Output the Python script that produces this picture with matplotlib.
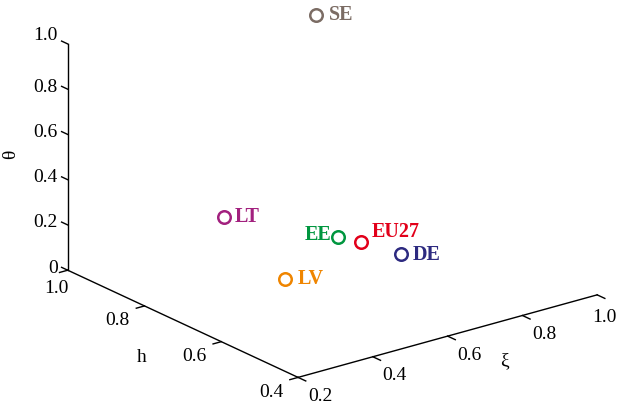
import matplotlib
matplotlib.use("Agg")
import matplotlib.pyplot as plt
from matplotlib.transforms import ScaledTranslation
from mpl_toolkits.mplot3d import proj3d

# ---------------- data ----------------
countries = ["SE", "LT", "EE", "EU27", "DE", "LV"]
xi_vals = [0.72, 0.41, 0.568, 0.630, 0.657, 0.45]
h_vals = [0.86, 0.798, 0.654, 0.656, 0.576, 0.678]
theta_vals = [1.0, 0.30, 0.25, 0.20, 0.20, 0.10]
colors = ["#7b6c64", "#a2207e", "#00963f", "#e2001a", "#2d2a80", "#ef8500"]

xi_ticks = [0.2, 0.4, 0.6, 0.8, 1.0]
xi_ticklabels = ["0.2", "0.4", "0.6", "0.8", "1.0"]
h_ticks = [0.4, 0.6, 0.8, 1.0]
h_ticklabels = ["0.4", "0.6", "0.8", "1.0"]
theta_ticks = [0.0, 0.2, 0.4, 0.6, 0.8, 1.0]
theta_ticklabels = ["0", "0.2", "0.4", "0.6", "0.8", "1.0"]

xi_lim = (0.2, 1.0)
h_lim = (0.4, 1.0)
theta_lim = (0.0, 1.0)

# label offsets (pixels, display coords: +x right, +y up)
label_offsets = {"SE": (13, 0, "left"), "LT": (11, 0, "left"), "EE": (-7, 2, "right"),
                 "EU27": (11, 10, "left"), "DE": (11, -1, "left"), "LV": (13, 0, "left")}

# ---------------- figure ----------------
plt.rcParams['font.family'] = ['Liberation Serif', 'DejaVu Serif']
fig = plt.figure(figsize=(6.18, 4.07), dpi=100)
ax = fig.add_axes([0.065, -0.1346, 0.921, 1.399], projection='3d', proj_type='ortho')
ax.set_box_aspect((1, 1, 0.642))
ax.view_init(elev=21, azim=-127.6)
ax.set_xlim(*xi_lim)
ax.set_ylim(*h_lim)
ax.set_zlim(*theta_lim)
ax.set_axis_off()

M = ax.get_proj()


def off(dx, dy):
    return ax.transData + ScaledTranslation(dx / fig.dpi, dy / fig.dpi, fig.dpi_scale_trans)


def text3(x, y, z, s, dx, dy, **kw):
    X, Y, _ = proj3d.proj_transform(x, y, z, M)
    return ax.text2D(X, Y, s, transform=off(dx, dy), **kw)


x0, x1 = xi_lim
y0, y1 = h_lim
z0, z1 = theta_lim
lw = 1.0
kc = "black"

# axis lines
ax.plot([x0, x0], [y1, y1], [z0, z1], color=kc, lw=lw)
ax.plot([x0, x0], [y0, y1], [z0, z0], color=kc, lw=lw)
ax.plot([x0, x1], [y0, y0], [z0, z0], color=kc, lw=lw)

tl_h = 0.016
tl_x = 0.022
tl_h2 = 0.02
tick_fs = 14

# theta ticks
for t, lab in zip(theta_ticks, theta_ticklabels):
    ax.plot([x0, x0], [y1, y1 + tl_h], [t, t], color=kc, lw=lw)
    dy = 8 if t == theta_ticks[-1] else 2
    text3(x0, y1, t, lab, -10, dy, ha="right", va="center", fontsize=tick_fs)

# h ticks
for hv, lab in zip(h_ticks, h_ticklabels):
    ax.plot([x0, x0 - tl_x], [hv, hv], [z0, z0], color=kc, lw=lw)
    dx, dy = (-11, -18) if hv == h_ticks[-1] else (-27, -15)
    text3(x0, hv, z0, lab, dx, dy, ha="center", va="center", fontsize=tick_fs)

# xi ticks
for xv, lab in zip(xi_ticks, xi_ticklabels):
    ax.plot([xv, xv], [y0, y0 - tl_h2], [z0, z0], color=kc, lw=lw)
    dx, dy = (7, -23) if xv == xi_ticks[-1] else (22, -19)
    text3(xv, y0, z0, lab, dx, dy, ha="center", va="center", fontsize=tick_fs)

# axis labels
text3(x0, y1, 0.5, "θ", -57, 3, ha="center", va="center", rotation=90, fontsize=tick_fs)
text3(x0, 0.7, z0, "h", -41, -34, ha="center", va="center", fontsize=tick_fs)
text3(0.7, y0, z0, "ξ", 19, -35, ha="center", va="center", fontsize=tick_fs)

# data points
for name, xv, hv, tv, c in zip(countries, xi_vals, h_vals, theta_vals, colors):
    ax.plot([xv], [hv], [tv], marker="o", ms=9, mfc="none", mec=c, mew=1.8,
            linestyle="none")
    dx, dy, ha = label_offsets[name]
    text3(xv, hv, tv, name, dx, dy, ha=ha, va="center", fontsize=14.5,
          fontweight="bold", color=c)

fig.savefig("out.png", dpi=100)
